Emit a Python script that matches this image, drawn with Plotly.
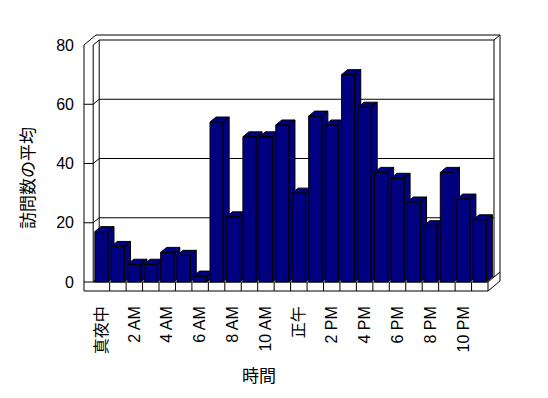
import plotly.graph_objects as go

# ---- data ----
hours = ["真夜中", "1 AM", "2 AM", "3 AM", "4 AM", "5 AM", "6 AM", "7 AM", "8 AM", "9 AM",
         "10 AM", "11 AM", "正午", "1 PM", "2 PM", "3 PM", "4 PM", "5 PM", "6 PM", "7 PM",
         "8 PM", "9 PM", "10 PM", "11 PM"]
visits = [17, 12, 6, 6, 10, 9, 2, 54, 22, 49, 49, 53, 30, 56, 53, 70, 59, 37, 35, 27, 19, 37, 28, 21]
y_ticks = [0, 20, 40, 60, 80]
x_title = "時間"
y_title = "訪問数の平均"

# ---- layout geometry (pixels) ----
W, H = 548, 398
PL, PR, PT, PB = 80, 504, 30, 296          # plot area in pixels
X0 = 93.2                                  # pixel of left edge of first category
PXX = 16.45                                # pixels per category
Y0 = 282.0                                 # pixel of value 0 on front plane
PXY = (282.0 - 45.0) / 80.0                # pixels per value unit

def px_to_x(p):
    return (p - X0) / PXX - 0.5

def px_to_y(p):
    return (Y0 - p) / PXY

xr = [px_to_x(PL), px_to_x(PR)]
yr = [px_to_y(PB), px_to_y(PT)]

DX = 6.0 / PXX       # depth step in data units
DY = 5.0 / PXY
XL = px_to_x(84)     # left wall outer
XI = -0.5            # left wall inner
XR = len(hours) - 0.5
FT = -9.0 / PXY      # floor bottom
YMAX = y_ticks[-1]

def P(x, y, d):
    return (x + d * DX, y + d * DY)

segs = []
def seg(a, b):
    segs.append((a, b))

# left wall
seg((XL, FT), (XL, YMAX))
seg((XI, 0), (XI, YMAX))
seg((XL, YMAX), P(XL, YMAX, 2))
seg((XI, YMAX), P(XI, YMAX, 1))
# back wall
seg(P(XL, YMAX, 2), P(XR, YMAX, 2))
seg(P(XI, YMAX, 1), P(XR, YMAX, 1))
seg(P(XR, YMAX, 1), P(XR, YMAX, 2))
seg(P(XR, YMAX, 1), P(XR, 0, 1))
seg(P(XR, YMAX, 2), P(XR, 0, 2))
seg(P(XI, YMAX, 1), P(XI, 0, 1))
# gridlines
for v in y_ticks[1:-1]:
    seg((XL, v), (XI, v))
    seg((XI, v), P(XI, v, 1))
    seg(P(XI, v, 1), P(XR, v, 1))
# floor
seg((XL, 0), (XR, 0))
seg((XL, FT), (XR, FT))
seg((XR, FT), (XR, 0))
seg((XI, 0), P(XI, 0, 1))
seg(P(XI, 0, 1), P(XR, 0, 1))
seg((XR, 0), P(XR, 0, 2))
seg((XR, FT), P(XR, FT, 2))
seg(P(XR, FT, 2), P(XR, 0, 2))
for k in range(1, len(hours)):
    seg((k - 0.5, 0), (k - 0.5, FT))

wx, wy = [], []
for a, b in segs:
    wx += [a[0], b[0], None]
    wy += [a[1], b[1], None]

fig = go.Figure()
fig.add_trace(go.Scatter(x=wx, y=wy, mode="lines", line=dict(color="black", width=1),
                         hoverinfo="skip", showlegend=False))

BW = 0.4
for i, v in enumerate(visits):
    xl, xrr = i - BW, i + BW
    xs = [xl, xrr, xrr, xl, xl, None,
          xl, xrr, xrr + DX, xl + DX, xl, None,
          xrr, xrr + DX, xrr + DX, xrr, xrr]
    ys = [0, 0, v, v, 0, None,
          v, v, v + DY, v + DY, v, None,
          0, DY, v + DY, v, 0]
    fig.add_trace(go.Scatter(x=xs, y=ys, mode="lines", fill="toself",
                             fillcolor="#000080", line=dict(color="black", width=1),
                             name=hours[i], showlegend=False))

FONT = "Liberation Sans, Noto Sans CJK JP, sans-serif"
fig.update_layout(
    width=W, height=H,
    margin=dict(l=PL, r=W - PR, t=PT, b=H - PB),
    paper_bgcolor="white", plot_bgcolor="white",
    showlegend=False,
    font=dict(family=FONT, size=16, color="black"),
    xaxis=dict(range=xr, showgrid=False, zeroline=False, showline=False,
               tickmode="array", tickvals=list(range(0, len(hours), 2)),
               ticktext=hours[::2], tickangle=-90, ticks="",
               ticklabelstandoff=6, tickfont=dict(family=FONT, size=16, color="black")),
    yaxis=dict(range=yr, showgrid=False, zeroline=False, showline=False,
               tickmode="array", tickvals=y_ticks, ticks="",
               ticklabelstandoff=5, tickfont=dict(family=FONT, size=16)),
    annotations=[
        dict(text=x_title, xref="paper", yref="paper", xanchor="center", yanchor="middle",
             x=(259 - PL) / (PR - PL), y=(PB - 376) / (PB - PT),
             showarrow=False, font=dict(family=FONT, size=17)),
        dict(text=y_title, xref="paper", yref="paper", xanchor="center", yanchor="middle",
             x=(28 - PL) / (PR - PL), y=(PB - 178) / (PB - PT),
             showarrow=False, textangle=-90, font=dict(family=FONT, size=17)),
    ],
)

fig.write_html("out.html")
